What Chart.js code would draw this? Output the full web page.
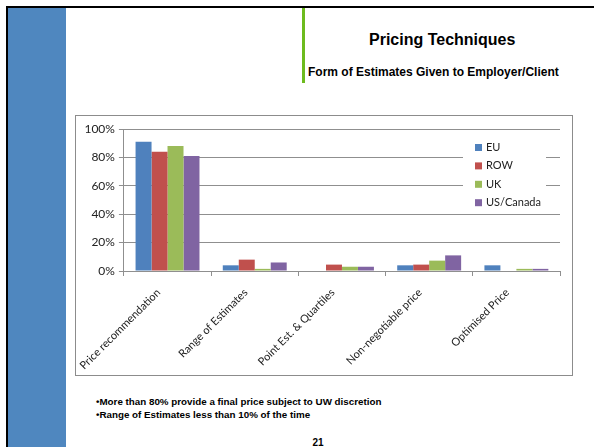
<!DOCTYPE html>
<html>
<head>
<meta charset="utf-8">
<script src="https://cdn.jsdelivr.net/npm/chart.js@4.4.0/dist/chart.umd.min.js"></script>
<style>
    html, body { margin: 0; padding: 0; background: #fff; }
    body { width: 594px; height: 447px; position: relative; overflow: hidden; font-family: "Liberation Sans", Arial, sans-serif; }
    .frame-top { position: absolute; left: 6px; top: 6px; width: 588px; height: 2px; background: #000; }
    .frame-left { position: absolute; left: 6px; top: 6px; width: 2px; height: 441px; background: #000; }
    .side-bar { position: absolute; left: 8px; top: 8px; width: 58px; height: 439px; background: #4f87bf; }
    .accent { position: absolute; left: 302px; top: 8px; width: 3px; height: 75px; background: #6dbb1e; }
    .title { position: absolute; left: 369px; top: 32px; font-size: 16px; line-height: 16px; font-weight: bold; white-space: nowrap; }
    .subtitle { position: absolute; left: 308px; top: 66px; font-size: 12px; line-height: 12px; font-weight: bold; white-space: nowrap; }
    .chart-box { position: absolute; left: 75px; top: 115px; width: 496px; height: 259px; border: 1.5px solid #8c8c8c; }
    .notes { position: absolute; left: 96px; top: 395px; font-size: 9.8px; line-height: 13px; font-weight: bold; white-space: nowrap; }
    .page-no { position: absolute; left: 300px; width: 36px; top: 437px; text-align: center; font-size: 10px; line-height: 12px; font-weight: bold; }
</style>
</head>
<body>
<div class="frame-top"></div>
<div class="frame-left"></div>
<div class="side-bar"></div>
<div class="accent"></div>
<div class="title">Pricing Techniques</div>
<div class="subtitle">Form of Estimates Given to Employer/Client</div>
<div class="chart-box"><canvas id="estimatesBar" width="496" height="259"></canvas></div>
<div class="notes">•More than 80% provide a final price subject to UW discretion<br>•Range of Estimates less than 10% of the time</div>
<div class="page-no">21</div>

<script>
// survey answers, % of respondents per region
const categories = ['Price recommendation', 'Range of Estimates', 'Point Est. & Quartiles', 'Non-negotiable price', 'Optimised Price'];
const seriesNames = ['EU', 'ROW', 'UK', 'US/Canada'];
const euValues = [91, 4, 0, 4, 4];
const rowValues = [84, 8, 4.5, 4.5, 0];
const ukValues = [88, 1.5, 3, 7.3, 1.5];
const usCanadaValues = [81, 6, 3, 11, 1.5];
const yTicks = [0, 20, 40, 60, 80, 100];

const seriesColors = ['#4f81bd', '#c0504d', '#9bbb59', '#8064a2'];
const gridColor = '#8f8f8f';

// legend sits over the plot area on a white patch, like the office chart
const boxLegend = {
    id: 'boxLegend',
    afterDraw(chart) {
        const ctx = chart.ctx;
        const area = chart.chartArea;
        const left = area.right - 97;
        const top = area.top + 6;
        ctx.save();
        ctx.fillStyle = '#fff';
        ctx.fillRect(left, top, 83, 77);
        ctx.font = '11px Lato, "Open Sans", sans-serif';
        ctx.textBaseline = 'middle';
        chart.data.datasets.forEach((ds, i) => {
            const y = top + 12.5 + i * 18.4;
            ctx.fillStyle = ds.backgroundColor;
            ctx.fillRect(left + 12, y - 3.5, 7, 7);
            ctx.fillStyle = '#222';
            ctx.fillText(ds.label, left + 23, y);
        });
        ctx.restore();
    }
};

const valueLists = [euValues, rowValues, ukValues, usCanadaValues];

new Chart(document.getElementById('estimatesBar'), {
    type: 'bar',
    data: {
        labels: categories,
        datasets: seriesNames.map((name, i) => ({
            label: name,
            data: valueLists[i],
            backgroundColor: seriesColors[i],
            borderWidth: 0,
            categoryPercentage: 0.733,
            barPercentage: 1.0
        }))
    },
    options: {
        responsive: false,
        animation: false,
        layout: { padding: { top: 13, right: 12, left: 0, bottom: 0 } },
        plugins: {
            legend: { display: false },
            tooltip: { enabled: false }
        },
        scales: {
            x: {
                afterFit: (scale) => { scale.height = 104; },
                grid: {
                    offset: true,
                    drawOnChartArea: false,
                    drawTicks: true,
                    tickLength: 5,
                    color: gridColor
                },
                border: { color: gridColor, width: 1 },
                ticks: {
                    minRotation: 45,
                    maxRotation: 45,
                    autoSkip: false,
                    padding: 10,
                    labelOffset: -9,
                    color: '#222',
                    font: { family: 'Lato, "Open Sans", sans-serif', size: 11 }
                }
            },
            y: {
                min: 0,
                max: 100,
                afterFit: (scale) => { scale.width = 47; },
                afterBuildTicks: (scale) => { scale.ticks = yTicks.map(v => ({ value: v })); },
                grid: {
                    color: gridColor,
                    lineWidth: 1,
                    drawTicks: true,
                    tickLength: 5
                },
                border: { color: gridColor, width: 1 },
                ticks: {
                    padding: 4,
                    color: '#222',
                    font: { family: 'Lato, "Open Sans", sans-serif', size: 12 },
                    callback: (value) => value + '%'
                }
            }
        }
    },
    plugins: [boxLegend]
});
</script>
</body>
</html>
